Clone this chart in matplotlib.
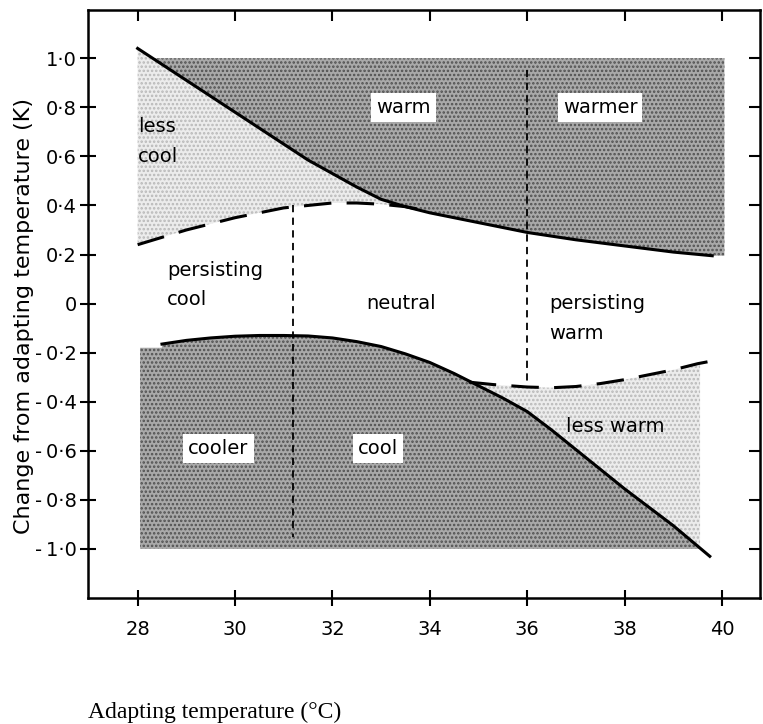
import numpy as np
import matplotlib
matplotlib.use("Agg")
import matplotlib.pyplot as plt

plt.rcParams['font.family'] = ['DejaVu Sans']
plt.rcParams['hatch.linewidth'] = 1.2

# boundary curves (x = adapting temperature, y = change in K)
upper_x = [28, 29, 30, 30.5, 31, 31.5, 32, 32.5, 33, 33.5, 34, 34.5, 35, 35.5, 36, 37, 38, 39, 39.8]
upper_solid = [1.04, 0.91, 0.78, 0.715, 0.65, 0.585, 0.53, 0.475, 0.425, 0.395, 0.37, 0.35, 0.33, 0.31, 0.29,
               0.26, 0.235, 0.21, 0.195]

upper_dash_x = [28, 28.5, 29, 29.5, 30, 30.5, 31, 31.5, 32, 32.5, 33, 33.5, 33.9]
upper_dash = [0.24, 0.27, 0.30, 0.325, 0.35, 0.37, 0.39, 0.40, 0.41, 0.41, 0.405, 0.395, 0.38]

lower_x = [28.5, 29, 29.5, 30, 30.5, 31, 31.5, 32, 32.5, 33, 33.5, 34, 34.5, 35, 35.5, 36, 36.5, 37,
           37.5, 38, 38.5, 39, 39.75]
lower_solid = [-0.165, -0.15, -0.14, -0.133, -0.13, -0.13, -0.132, -0.14, -0.155, -0.175, -0.205, -0.24,
               -0.285, -0.335, -0.385, -0.44, -0.515, -0.595, -0.675, -0.755, -0.83, -0.905, -1.03]

lower_dash_x = [34.8, 35.3, 36, 36.5, 37, 37.5, 38, 38.5, 39, 39.5, 39.9]
lower_dash = [-0.32, -0.33, -0.34, -0.343, -0.338, -0.326, -0.31, -0.29, -0.27, -0.245, -0.23]

# region limits
dark_top = 1.0
dark_bottom = -1.0
upper_right_edge = 40.05
lower_left_edge = 28.05
lower_left_top = -0.18
light_lower_x = (34.8, 39.55)
dividers = [(31.2, 0.40, -0.95), (36.0, 0.95, -0.34)]

xticks = [28, 30, 32, 34, 36, 38, 40]
yticks = [1.0, 0.8, 0.6, 0.4, 0.2, 0, -0.2, -0.4, -0.6, -0.8, -1.0]
ytick_labels = ["1·0", "0·8", "0·6", "0·4", "0·2", "0",
                "-\u20090·2", "-\u20090·4", "-\u20090·6", "-\u20090·8", "-\u20091·0"]

regions = [
    ("warm", 33.46, 0.80, True, 'center'),
    ("warmer", 37.5, 0.80, True, 'center'),
    ("less\ncool", 28.0, 0.66, False, 'left'),
    ("persisting\ncool", 28.6, 0.075, False, 'left'),
    ("neutral", 33.4, 0.0, False, 'center'),
    ("persisting\nwarm", 36.45, -0.06, False, 'left'),
    ("cooler", 29.66, -0.59, True, 'center'),
    ("cool", 32.94, -0.59, True, 'center'),
    ("less warm", 37.8, -0.50, False, 'center'),
]

fig = plt.figure(figsize=(7.63, 7.24), dpi=100)
ax = fig.add_axes([0.1153, 0.174, 0.8807, 0.812])

dark = dict(facecolor='#a9a9a9', edgecolor='#505050', hatch='....', linewidth=0)
light = dict(facecolor='#ececec', edgecolor='#b8b8b8', hatch='....', linewidth=0)

# upper shaded regions
xg = np.linspace(28, upper_right_edge, 600)
ys = np.interp(xg, upper_x, upper_solid)
ax.fill_between(xg, ys, dark_top, where=ys <= dark_top, zorder=1, **dark)
xl = np.linspace(28, upper_dash_x[-1], 300)
ax.fill_between(xl, np.interp(xl, upper_dash_x, upper_dash),
                np.interp(xl, upper_x, upper_solid), zorder=1, **light)

# lower shaded regions
xl2 = np.linspace(light_lower_x[0], light_lower_x[1], 300)
ax.fill_between(xl2, dark_bottom, np.interp(xl2, lower_dash_x, lower_dash), zorder=1, **light)
xg2 = np.linspace(lower_left_edge, 39.62, 600)
top2 = np.interp(xg2, lower_x, lower_solid, left=lower_left_top)
ax.fill_between(xg2, dark_bottom, np.maximum(top2, dark_bottom), zorder=2, **dark)

# curves
ax.plot(upper_x, upper_solid, color='black', lw=2.2, zorder=4)
ax.plot(lower_x, lower_solid, color='black', lw=2.2, zorder=4)
ax.plot(upper_dash_x, upper_dash, color='black', lw=2.2, dashes=(9, 5), zorder=4)
ax.plot(lower_dash_x, lower_dash, color='black', lw=2.2, dashes=(9, 5), zorder=4)
for xv, y0, y1 in dividers:
    ax.plot([xv, xv], [y0, y1], color='black', lw=1.3, dashes=(4, 3), zorder=4)

for label, x, y, boxed, ha in regions:
    kw = {}
    if boxed:
        kw['bbox'] = dict(boxstyle='square,pad=0.25', facecolor='white', edgecolor='none')
    ax.text(x, y, label, ha=ha, va='center', fontsize=14, linespacing=1.7, zorder=5, **kw)

ax.set_xlim(26.98, 40.78)
ax.set_ylim(-1.2, 1.196)
ax.set_xticks(xticks)
ax.set_xticklabels([str(t) for t in xticks], fontsize=14)
ax.set_yticks(yticks)
ax.set_yticklabels(ytick_labels, fontsize=14)

for s in ax.spines.values():
    s.set_linewidth(1.8)
ax.tick_params(axis='y', which='both', left=True, right=True, width=1.5)
ax.tick_params(axis='x', which='both', bottom=True, top=True, width=1.5)
ax.tick_params(axis='y', direction='inout', length=12, pad=2)
ax.tick_params(axis='x', direction='inout', length=12, pad=10)
for t in ax.yaxis.get_major_ticks():
    t.tick2line.set_markersize(8)
    t.tick2line.set_marker(matplotlib.lines.TICKLEFT)
for t in ax.xaxis.get_major_ticks():
    t.tick2line.set_markersize(8)
    t.tick2line.set_marker(matplotlib.lines.TICKDOWN)

ax.set_ylabel("Change from adapting temperature (K)", fontsize=16)
ax.yaxis.set_label_coords(-0.081, 0.48)

fig.text(88 / 763, 1 - 712 / 724, "Adapting temperature (°C)", fontsize=17,
         family=['Liberation Serif', 'DejaVu Serif'], ha='left', va='center')

fig.savefig("out.png", dpi=100)
